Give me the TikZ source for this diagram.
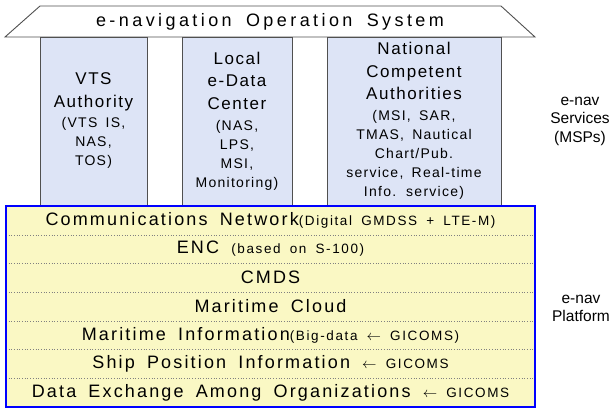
\documentclass[tikz,border=0pt]{standalone}
\usepackage{fontspec}
\setmainfont{Liberation Sans}
\newfontfamily\enavfontA[LetterSpace=19,WordSpace=1.7]{Liberation Sans}
\newfontfamily\enavfontB[LetterSpace=9,WordSpace=1.6]{Liberation Sans}
\newfontfamily\enavfontC[LetterSpace=12,WordSpace=1.7]{Liberation Sans}
\begin{document}
\begin{tikzpicture}[x=1pt,y=-1pt,
  colbox/.style={draw=custcol_50_50_50, line width=0.8pt, fill=custcol_dd_e4_f6, minimum height=168, inner sep=0, align=center, font=\enavfontB\fontsize{14}{19}\selectfont},
  rowbox/.style={fill=custcol_fa_f8_c4, minimum width=529, minimum height=28.7, inner sep=0},
  rowsep/.style={dotted, line width=0.7pt, custcol_80_80_80},
  sidetext/.style={align=center, inner sep=0, font=\fontsize{15.5}{18.5}\selectfont}]
\useasboundingbox (0,0) rectangle (609,408);
\def\enavbig{\enavfontB\fontsize{17}{17}\selectfont}
\def\enavrow{\enavfontC\fontsize{18}{18}\selectfont}
\def\enavsmall{\enavfontC\fontsize{13.5}{13.5}\selectfont}
\definecolor{custcol_50_50_50}{RGB}{80, 80, 80}
\definecolor{custcol_80_80_80}{RGB}{128, 128, 128}
\definecolor{custcol_dd_e4_f6}{RGB}{221, 228, 246}
\definecolor{custcol_fa_f8_c4}{RGB}{250, 248, 196}
\definecolor{custcol_00_00_ff}{RGB}{0, 0, 255}
% roof
\draw [line width=0.9pt, custcol_50_50_50, fill=white]  (40.0,6.0) -- (501.0,6.0) -- (535.0,37.0) -- (5.0,37.0) -- cycle ;
\node[inner sep=0] (roof) at  (270.0,22.0)  {\enavfontA\fontsize{18}{18}\selectfont e-navigation Operation System};
% service columns
\node[colbox, minimum width=107] (vts) at  (93.5,121.0)  {\enavbig VTS\\[3.5pt]\enavbig Authority\\[1.5pt](VTS IS,\\NAS,\\TOS)};
\node[colbox, minimum width=110] (edata) at  (237.0,121.0)  {\enavbig Local\\[3.5pt]\enavbig e-Data\\[3.5pt]\enavbig Center\\[2pt](NAS,\\LPS,\\MSI,\\Monitoring)};
\node[colbox, minimum width=174] (nca) at  (414.0,121.0)  {\enavbig National\\[3.5pt]\enavbig Competent\\[3.5pt]\enavbig Authorities\\[1.5pt](MSI, SAR,\\TMAS, Nautical\\Chart/Pub.\\service, Real-time\\Info. service)};
% platform rows
\node[rowbox] (r1) at  (270.5,220.35)  {\enavrow Communications Network\enavsmall(Digital GMDSS + LTE-M)};
\node[rowbox] (r2) at  (270.5,249.05)  {\enavrow ENC \enavsmall (based on S-100)};
\node[rowbox] (r3) at  (270.5,277.75)  {\enavrow CMDS};
\node[rowbox] (r4) at  (270.5,306.45)  {\enavrow Maritime Cloud};
\node[rowbox] (r5) at  (270.5,335.15)  {\enavrow Maritime Information\enavsmall(Big-data $\leftarrow$ GICOMS)};
\node[rowbox] (r6) at  (270.5,363.85)  {\enavrow Ship Position Information \enavsmall$\leftarrow$ GICOMS};
\node[rowbox] (r7) at  (270.5,392.55)  {\enavrow Data Exchange Among Organizations \enavsmall$\leftarrow$ GICOMS};
\draw [rowsep]  (r1.south west) -- (r1.south east) ;
\draw [rowsep]  (r2.south west) -- (r2.south east) ;
\draw [rowsep]  (r3.south west) -- (r3.south east) ;
\draw [rowsep]  (r4.south west) -- (r4.south east) ;
\draw [rowsep]  (r5.south west) -- (r5.south east) ;
\draw [rowsep]  (r6.south west) -- (r6.south east) ;
\draw [line width=2.5pt, custcol_00_00_ff]  (r1.north west) rectangle (r7.south east) ;
% layer labels
\node[sidetext] (svc) at  (580.0,121.0)  {e-nav\\Services\\(MSPs)};
\node[sidetext] (plat) at  (581.0,308.5)  {e-nav\\Platform};
\end{tikzpicture}
\end{document}
